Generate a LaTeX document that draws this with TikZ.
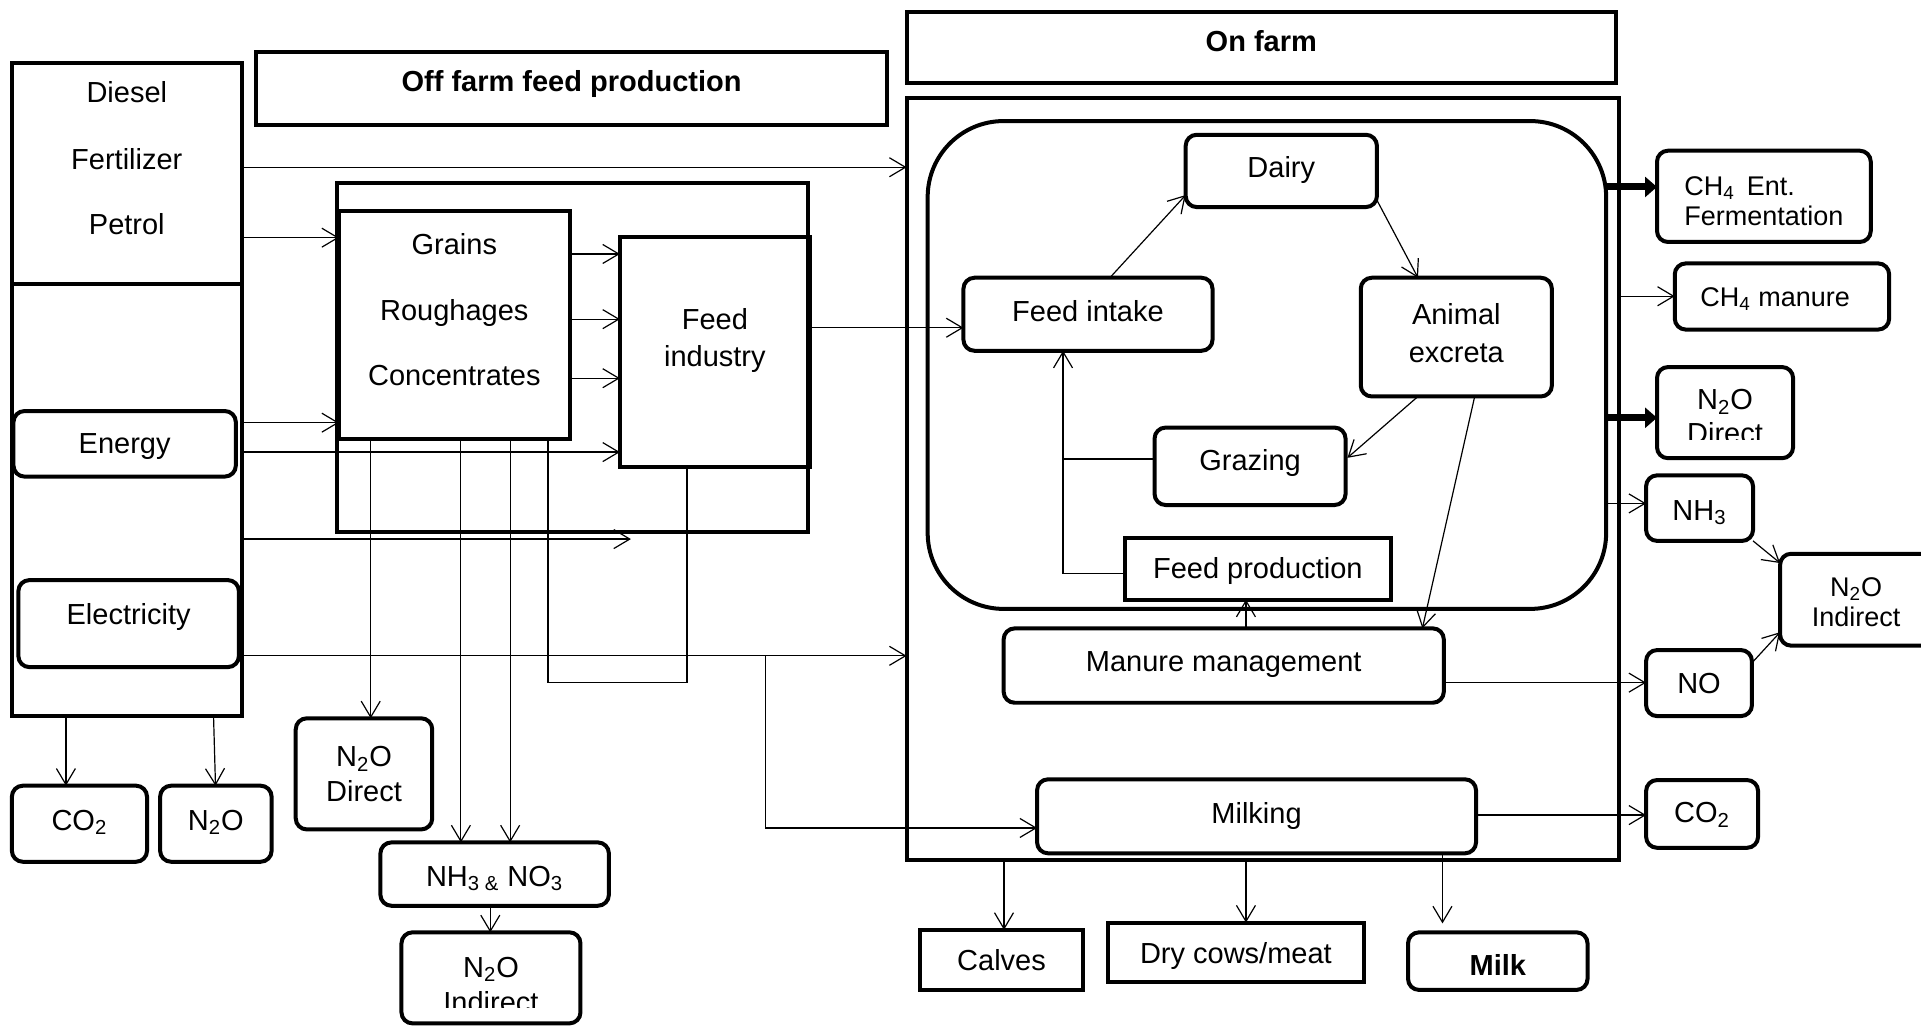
\documentclass[tikz,border=0pt]{standalone}
\usepackage{fontspec}
\setmainfont{Liberation Sans}
\usetikzlibrary{arrows.meta,calc}

% box from its corners: name, x1, y1, x2, y2, style, text
\newcommand\mkbox[7]{%
  \pgfmathsetlengthmacro\bxW{(#4-#2)*0.6126pt}%
  \pgfmathsetlengthmacro\bxH{(#5-#3)*0.6126pt}%
  \pgfmathsetmacro\bxX{(#2+#4)/2}%
  \pgfmathsetmacro\bxY{(#3+#5)/2}%
  \node[#6, minimum width=\bxW, minimum height=\bxH] (#1) at (\bxX,\bxY) {#7};%
}
\newcommand\mlc[1]{\begin{tabular}[t]{@{}c@{}}#1\end{tabular}}
\newcommand\mll[1]{\begin{tabular}[t]{@{}l@{}}#1\end{tabular}}

\tikzset{
  bord/.style={draw, line width=2pt, inner sep=0pt, outer sep=0pt},
  sqb/.style={bord},
  rdb/.style={bord, rounded corners=5.5pt},
  % baseline offset of the text below the box centre
  bl/.code={%
    \pgfmathsetmacro\blh{max(2,2+1.2252*(#1))}%
    \pgfmathsetmacro\bld{\blh-1.2252*(#1)}%
    \edef\blset{\noexpand\pgfkeysalso{text height=\blh pt, text depth=\bld pt}}\blset},
  lsp/.style={font=\fontsize{14.5}{#1}\selectfont},
  lsps/.style={font=\fontsize{13.5}{#1}\selectfont},
  bold/.style={font=\fontsize{14.5}{17.4}\selectfont\bfseries},
  conn/.style={line width=0.6pt},
  arr/.style={line width=0.6pt, -{Straight Barb[length=8pt,width=9.5pt]}},
  fat/.style={line width=3.5pt, -{Triangle[length=6pt,width=10pt]}},
}

\begin{document}
\begin{tikzpicture}[x=0.6126pt, y=-0.6126pt, font=\fontsize{14.5}{17.4}\selectfont]
\useasboundingbox (0,0) rectangle (1568,837);
\fill[white] (0,0) rectangle (1568,837);

% ---------- inputs ----------
\mkbox{lb}{10}{51.5}{197.5}{584.5}{sqb}{}
\draw[line width=2pt] ($(lb.north west)+(0,180)$) -- ($(lb.north east)+(0,180)$);
\node[anchor=base] (diesel) at (103.5,84) {Diesel};
\node[anchor=base] (fert) at (103.5,138) {Fertilizer};
\node[anchor=base] (petrol) at (103.5,191) {Petrol};
\mkbox{en}{11}{335.5}{192.5}{389}{rdb,bl=7.7}{Energy}
\mkbox{el}{15}{473.5}{195}{544.5}{rdb,bl=1}{Electricity}

\mkbox{co2a}{9.7}{641.3}{120}{703.4}{rdb,bl=5.2}{CO\textsubscript{2}}
\mkbox{n2oa}{130.7}{641.3}{221.7}{703.4}{rdb,bl=5.2}{N\textsubscript{2}O}

% ---------- off farm ----------
\mkbox{offt}{208.7}{42.2}{724.4}{102}{sqb,bl=2.3,bold}{Off farm feed production}
\mkbox{offc}{275}{149.7}{659.5}{434}{sqb}{}
\mkbox{grains}{276.7}{171.9}{465}{358}{sqb,bl=-56.85,lsp=32.7}{\mlc{Grains\\Roughages\\Concentrates}}
\mkbox{fi}{506}{193.6}{661}{381}{sqb,bl=-18.7,lsp=18.9}{\mlc{Feed\\industry}}

\mkbox{n2od}{241.4}{586.3}{352.8}{677}{rdb,bl=-5.85,lsp=17.5}{\mlc{N\textsubscript{2}O\\Direct}}
\mkbox{nhno}{310.5}{687.6}{497}{739.3}{rdb,bl=9.8}{NH\textsubscript{3 \&} NO\textsubscript{3}}
\mkbox{n2oi}{327.7}{761}{473.8}{835.3}{rdb}{}
\begin{scope}
  \clip (320,750) rectangle (480,822.6);
  \node[anchor=base,lsp=17.5,inner sep=0pt] (n2oiT) at (400.75,797.5) {\mlc{N\textsubscript{2}O\\Indirect}};
\end{scope}

% ---------- on farm ----------
\mkbox{ont}{740}{9.5}{1319}{67.7}{sqb,bl=3.4,bold}{On farm}
\mkbox{onc}{740}{80}{1321.5}{702}{sqb}{}
\mkbox{rr}{757.2}{98.8}{1311}{497}{bord,rounded corners=38pt}{}
\mkbox{dairy}{967.8}{110}{1123.9}{169}{rdb,bl=5.7}{Dairy}
\mkbox{fint}{786.4}{226.7}{989.7}{286.3}{rdb,bl=5.8}{Feed intake}
\mkbox{ae}{1110.7}{226.7}{1266.7}{323.6}{rdb,bl=-10.55,lsp=19}{\mlc{Animal\\excreta}}
\mkbox{graz}{942.4}{349}{1098.3}{412.2}{rdb,bl=3.4}{Grazing}
\mkbox{fprod}{918}{439.4}{1135.4}{489.5}{sqb,bl=7.5}{Feed production}
\mkbox{mm}{819.2}{512.9}{1178.5}{573.6}{rdb,bl=5}{Manure management}
\mkbox{milking}{846.5}{636.1}{1204.8}{696.5}{rdb,bl=5.7}{Milking}

\mkbox{calves}{751}{759}{884}{808}{sqb,bl=8.8}{Calves}
\mkbox{dry}{904}{753}{1113.6}{801.8}{sqb,bl=8.9}{Dry cows/meat}
\mkbox{milk}{1149.3}{761}{1295.8}{808}{rdb,bl=11.5,bold}{Milk}

% ---------- emissions ----------
\mkbox{ch4e}{1352.5}{123}{1527}{197.5}{rdb,bl=-1.05,lsps=15}{\mll{CH\textsubscript{4}\hspace{6pt}Ent.\\Fermentation}}
\mkbox{ch4m}{1367}{215}{1542}{269}{rdb,bl=7.8,lsps=16}{CH\textsubscript{4} manure\kern6.9pt}
\mkbox{n2odr}{1352.5}{299.6}{1463.6}{374}{rdb}{}
\begin{scope}
  \clip (1345,290) rectangle (1470,359);
  \node[anchor=base,lsp=17,inner sep=0pt] (n2odrT) at (1408,334.6) {\mlc{N\textsubscript{2}O\\Direct}};
\end{scope}
\mkbox{nh3}{1343.6}{388}{1430.9}{441.5}{rdb,bl=9.7}{NH\textsubscript{3}}
\mkbox{n2oir}{1453}{452}{1577}{527}{rdb,bl=-3,lsps=15}{\mlc{N\textsubscript{2}O\\Indirect}}
\mkbox{no}{1343.6}{530.6}{1430}{584.5}{rdb,bl=8.5}{NO}
\mkbox{co2r}{1343.6}{636.7}{1435}{692}{rdb,bl=7.2}{CO\textsubscript{2}}

% ---------- connectors: inputs ----------
\coordinate (yA) at (0,136.5);
\draw[arr] (lb.east |- yA) -- (onc.west |- yA);
\coordinate (yB) at (0,194);
\draw[arr] (lb.east |- yB) -- (grains.west |- yB);
\coordinate (yC) at (0,345);
\draw[arr] (lb.east |- yC) -- (grains.west |- yC);
\coordinate (yD) at (0,369);
\draw[arr] (lb.east |- yD) -- (fi.west |- yD);
\coordinate (pE) at (515,440);
\draw[arr] (lb.east |- pE) -- (pE);
\coordinate (yF) at (0,535.3);
\coordinate (brk) at (624.8,535.3);
\draw[arr] (lb.east |- yF) -- (onc.west |- yF);
\coordinate (yG) at (0,675.8);
\draw[arr] (brk) |- (milking.west |- yG);

\coordinate (xg) at (53.8,0);
\draw[arr] (lb.south -| xg) -- (co2a.north -| xg);
\draw[arr] ($(lb.south)+(70.55,0)$) -- ($(n2oa.north)+(-0.3,0)$);

% ---------- connectors: off farm ----------
\foreach \yy [count=\i] in {207.3,260.5,308.7}{
  \coordinate (gf\i) at (0,\yy);
  \draw[arr] (grains.east |- gf\i) -- (fi.west |- gf\i);
}
\coordinate (yH) at (0,267.5);
\draw[arr] (fi.east |- yH) -- (fint.west |- yH);

\coordinate (xa) at (302.6,0);
\draw[arr] (grains.south -| xa) -- (n2od.north -| xa);
\coordinate (xb) at (376.2,0);
\draw[arr] (grains.south -| xb) -- (nhno.north -| xb);
\coordinate (xc) at (416.4,0);
\draw[arr] (grains.south -| xc) -- (nhno.north -| xc);
\coordinate (xd) at (447.3,557);
\coordinate (xe) at (560.8,0);
\draw[conn] (grains.south -| xd) -- (xd) -| (fi.south -| xe);
\coordinate (xf) at (400.2,0);
\draw[arr] (nhno.south -| xf) -- (n2oi.north -| xf);

% ---------- connectors: on farm ----------
\draw[arr] ($(fint.north)+(17.85,0)$) -- ($(dairy.west)+(0,19.7)$);
\draw[arr] ($(dairy.east)+(0,23.9)$) -- ($(ae.north)+(-31.3,0)$);
\draw[arr] ($(ae.south)+(-31.3,0)$) -- ($(graz.east)+(1.5,-6.9)$);
\draw[arr] ($(ae.south)+(15,0)$) -- ($(mm.north)+(162.15,0)$);

\coordinate (fbx) at ($(fint.south)+(-20.35,0)$);
\coordinate (fpw) at ($(fprod.west)+(0,3.9)$);
\coordinate (gzw) at ($(graz.west)+(0,-5.9)$);
\draw[arr] (fpw) -| (fbx);
\draw[conn] (gzw) -- (gzw -| fbx);

\coordinate (mmn) at ($(mm.north)+(18.15,0)$);
\draw[arr] (mmn) -- (mmn |- fprod.south);
\coordinate (mme) at ($(mm.east)+(0,13.95)$);
\draw[arr] (mme) -- (mme -| no.west);
\coordinate (mke) at ($(milking.east)+(0,-1)$);
\draw[arr] (mke) -- (mke -| co2r.west);

% ---------- connectors: emissions ----------
\coordinate (yJ) at (0,152.6);
\draw[fat] (rr.east |- yJ) -- (ch4e.west |- yJ);
\coordinate (yK) at (0,241.8);
\draw[arr] (onc.east |- yK) -- (ch4m.west |- yK);
\coordinate (yL) at (0,341);
\draw[fat] (rr.east |- yL) -- (n2odr.west |- yL);
\coordinate (yM) at (0,410.9);
\draw[arr] (rr.east |- yM) -- (nh3.west |- yM);
\draw[arr] (nh3.south east) -- ($(n2oir.north west)+(0,7.6)$);
\draw[arr] ($(no.east)+(0,-16.5)$) -- ($(n2oir.west)+(0,26.5)$);

% ---------- connectors: products ----------
\coordinate (xk) at (819.5,0);
\draw[arr] (onc.south -| xk) -- (calves.north -| xk);
\coordinate (xl) at (1017,0);
\draw[arr] (onc.south -| xl) -- (dry.north -| xl);
\coordinate (mkend) at (1177.4,753.7);
\draw[arr] (milking.south -| mkend) -- (mkend);
\end{tikzpicture}
\end{document}
